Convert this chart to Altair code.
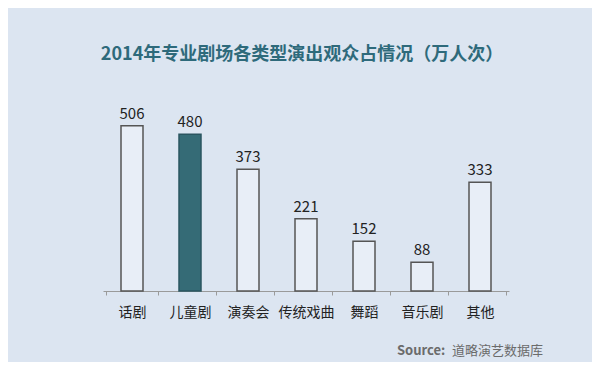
import altair as alt
import pandas as pd

categories = ["话剧", "儿童剧", "演奏会", "传统戏曲", "舞蹈", "音乐剧", "其他"]
values = [506, 480, 373, 221, 152, 88, 333]
highlight = "儿童剧"

df = pd.DataFrame({"cat": categories, "val": values})

FONT = "Noto Sans CJK SC"

x = alt.X("cat:N", sort=categories, title=None,
          axis=alt.Axis(labelAngle=0, labelFontSize=14, labelColor="#222222", labelFont=FONT,
                        domainColor="#9a9a9a", domainWidth=1, tickColor="#9a9a9a", tickSize=4,
                        tickBand="extent", labelPadding=10, grid=False))
y = alt.Y("val:Q", scale=alt.Scale(domain=[0, 600], nice=False), axis=None)

is_hl = alt.datum.cat == highlight

bars = alt.Chart(df).mark_bar(size=22, strokeWidth=1.5).encode(
    x=x, y=y,
    fill=alt.condition(is_hl, alt.value("#356b76"), alt.value("#e8eef7")),
    stroke=alt.condition(is_hl, alt.value("#2a5560"), alt.value("#555555")),
)

labels = alt.Chart(df).mark_text(baseline="bottom", dy=-4, fontSize=15, font=FONT, color="#222222").encode(
    x=alt.X("cat:N", sort=categories), y=y, text=alt.Text("val:Q")
)

src_df = pd.DataFrame({"a": ["Source:"], "b": ["道略演艺数据库"]})
src1 = alt.Chart(src_df).mark_text(align="left", baseline="middle", fontSize=13, fontWeight="bold",
                                   font=FONT, color="#6b6b6b").encode(
    x=alt.value(294), y=alt.value(256), text="a:N")
src2 = alt.Chart(src_df).mark_text(align="left", baseline="middle", fontSize=13,
                                   font=FONT, color="#6b6b6b").encode(
    x=alt.value(349), y=alt.value(256), text="b:N")

chart = alt.layer(bars, labels, src1, src2).properties(
    width=406, height=196,
    autosize=alt.AutoSizeParams(type="none"),
    padding={"left": 95, "top": 87, "right": 83, "bottom": 71},
    background="#dce5f1",
    title=alt.TitleParams("2014年专业剧场各类型演出观众占情况（万人次）", font=FONT, fontSize=18,
                          fontWeight="bold", color="#2e6a7b", anchor="middle", offset=31, dx=-4),
).configure_view(stroke=None)

chart.save("out.html", embed_options={"renderer": "svg", "actions": False})
